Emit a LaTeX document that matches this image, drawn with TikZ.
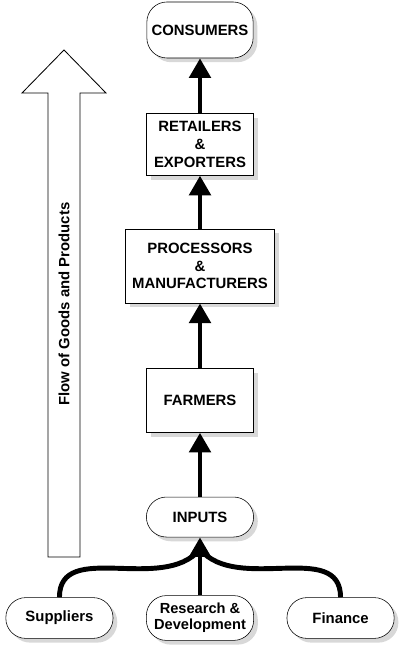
\documentclass[tikz,border=0pt]{standalone}
\usepackage{fontspec}
\setmainfont{Liberation Sans}
\usetikzlibrary{arrows.meta, positioning, shadows}

\begin{document}
\begin{tikzpicture}[
  >={Triangle[width=15pt,length=14pt]},
  node distance=1.5cm,
  every node/.style={align=center, font=\bfseries\fontsize{10.6}{12.6}\selectfont},
  stage/.style={draw, thin, fill=white, drop shadow={fill=black!30, shadow xshift=3pt, shadow yshift=-3pt}, minimum width=2.68cm, minimum height=1.6cm},
  pill/.style={stage, rounded corners=0.5cm, minimum height=1.02cm},
  feed/.style={->, line width=3.5pt}
]
\useasboundingbox (-5,-0.875) rectangle (5,15.45);

\node[pill, minimum height=1.12cm, font=\bfseries\fontsize{10.4}{11.2}\selectfont] (rd) {Research \&\\Development};
\node[pill] (sup) [left=0.82cm of rd] {Suppliers};
\node[pill] (fin) [right=0.82cm of rd] {Finance};
\node[pill, minimum height=1cm] (inp) [above=1.45cm of rd] {INPUTS};
\node[stage] (farm) [above=1.6cm of inp] {FARMERS};
\node[stage, minimum width=3.72cm, minimum height=1.85cm] (proc) [above=1.62cm of farm] {PROCESSORS\\\&\\MANUFACTURERS};
\node[stage, minimum height=1.55cm] (ret) [above=1.33cm of proc] {RETAILERS\\\&\\EXPORTERS};
\node[pill, minimum width=2.58cm, minimum height=1.4cm] (cons) [above=1.37cm of ret] {CONSUMERS};
\coordinate[below=0.3cm of inp.south] (join);

\draw[line width=3.5pt] (sup.north) to[out=90, in=-130] (join);
\draw[line width=3.5pt] (fin.north) to[out=90, in=-50] (join);
\draw[feed] (rd) -- (inp);
\draw[feed] (inp) -- (farm);
\draw[feed] (farm) -- (proc);
\draw[feed] (proc) -- (ret);
\draw[feed] (ret) -- (cons);

\draw[semithick] (-3.8,1.525) -- (-3.8,13.125) -- (-4.45,13.125) -- (-3.4,14.2)
  -- (-2.35,13.125) -- (-3.0,13.125) -- (-3.0,1.525) -- cycle;
\node[rotate=90] (flowtext) at (-3.4,7.85) {Flow of Goods and Products};
\end{tikzpicture}
\end{document}
